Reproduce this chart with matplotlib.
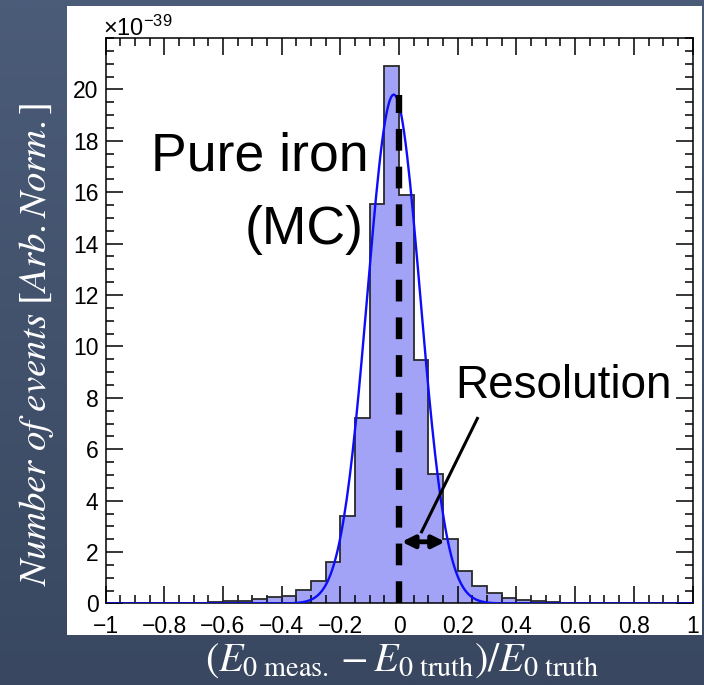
import matplotlib
matplotlib.use("Agg")
import matplotlib.pyplot as plt
import numpy as np
from matplotlib.colors import LinearSegmentedColormap
from matplotlib.patches import Rectangle
from matplotlib.ticker import MultipleLocator

# histogram: 40 bins of width 0.05 between -1 and 1 (units of 1e-39)
bin_lo, bin_hi, n_bins = -1.0, 1.0, 40
counts = [
    0.0, 0.0, 0.01, 0.01, 0.01, 0.02, 0.03, 0.04, 0.08, 0.10,
    0.16, 0.24, 0.30, 0.52, 0.88, 1.62, 3.42, 7.22, 15.55, 20.9,
    15.9, 9.46, 5.05, 2.52, 1.25, 0.69, 0.39, 0.23, 0.14, 0.10,
    0.06, 0.03, 0.02, 0.01, 0.01, 0.01, 0.0, 0.0, 0.0, 0.0,
]

# gaussian fit drawn on top
fit_amp, fit_mean, fit_sigma = 19.8, -0.018, 0.09

x_ticks = [-1, -0.8, -0.6, -0.4, -0.2, 0, 0.2, 0.4, 0.6, 0.8, 1]
x_tick_labels = ["\u22121", "\u22120.8", "\u22120.6", "\u22120.4", "\u22120.2",
                 "0", "0.2", "0.4", "0.6", "0.8", "1"]
y_ticks = [0, 2, 4, 6, 8, 10, 12, 14, 16, 18, 20]
y_tick_labels = [str(v) for v in y_ticks]

plt.rcParams["font.family"] = ["Liberation Sans", "DejaVu Sans"]
plt.rcParams["mathtext.fontset"] = "custom"
plt.rcParams["mathtext.rm"] = "Liberation Sans"
plt.rcParams["mathtext.it"] = "Liberation Sans:italic"

fig = plt.figure(figsize=(7.04, 6.85), dpi=100)

# slide background gradient + white panel
bg = fig.add_axes([0, 0, 1, 1], zorder=-10)
grad = np.linspace(0, 1, 256).reshape(-1, 1)
cmap = LinearSegmentedColormap.from_list("slide", ["#4b5c79", "#394860"])
bg.imshow(grad, aspect="auto", extent=[0, 1, 0, 1], cmap=cmap, origin="upper")
bg.axis("off")
fig.add_artist(Rectangle((0.0952, 0.073), 0.902, 0.918, transform=fig.transFigure,
                         facecolor="white", edgecolor="none", zorder=-5))

ax = fig.add_axes([0.1499, 0.119, 0.8338, 0.8255])
edges = np.linspace(bin_lo, bin_hi, n_bins + 1)
ax.stairs(counts, edges, fill=True, color="#a2a2f6", zorder=1)
ax.stairs(counts, edges, color="#2a2a2a", lw=1.3, zorder=2)

xf = np.linspace(bin_lo, bin_hi, 400)
ax.plot(xf, fit_amp * np.exp(-(xf - fit_mean) ** 2 / (2 * fit_sigma ** 2)),
        color="#0d0dfa", lw=1.7, zorder=3)

ax.plot([0, 0], [0, 19.77], color="black", lw=4.6, linestyle=(0, (3.4, 2.5)),
        solid_capstyle="butt", dash_capstyle="butt", zorder=4)

ax.set_xlim(bin_lo, bin_hi)
ax.set_ylim(0, 22)
ax.set_xticks(x_ticks)
ax.set_xticklabels(x_tick_labels)
ax.set_yticks(y_ticks)
ax.set_yticklabels(y_tick_labels)
ax.xaxis.set_minor_locator(MultipleLocator(0.05))
ax.yaxis.set_minor_locator(MultipleLocator(0.5))
ax.tick_params(which="both", direction="in", top=True, right=True, width=1.1,
               labelsize=16.5)
ax.tick_params(which="major", length=12)
ax.tick_params(which="minor", length=6)
ax.tick_params(axis="x", pad=8)
ax.tick_params(axis="y", pad=5)
for s in ax.spines.values():
    s.set_linewidth(1.1)

ax.text(-0.005, 1.004, "\u00d710$^{\u221239}$", transform=ax.transAxes,
        fontsize=17, ha="left", va="baseline")

ax.text(-0.105, 16.85, "Pure iron", fontsize=38.5, ha="right", va="baseline", zorder=5)
ax.text(-0.122, 14.0, "(MC)", fontsize=38.5, ha="right", va="baseline", zorder=5)
ax.text(0.19, 7.99, "Resolution", fontsize=33, ha="left", va="baseline", zorder=5)
ax.plot([0.267, 0.077], [7.2, 2.79], color="black", lw=2.2, zorder=5)
ax.annotate("", xy=(0.157, 2.4), xytext=(0.009, 2.4),
            arrowprops=dict(arrowstyle="<|-|>", lw=3.5, color="black",
                            mutation_scale=18, shrinkA=0, shrinkB=0), zorder=5)

fig.text(0.052, 0.497, r"$Number\ of\ events\ [Arb.Norm.]$", rotation=90,
         color="white", fontsize=28, ha="center", va="center", math_fontfamily="stix")
fig.text(0.571, 0.0204,
         r"$(E_{0\ \mathrm{meas.}} - E_{0\ \mathrm{truth}})/E_{0\ \mathrm{truth}}$",
         color="white", fontsize=29, ha="center", va="baseline", math_fontfamily="stix")

fig.savefig("out.png", dpi=100)
